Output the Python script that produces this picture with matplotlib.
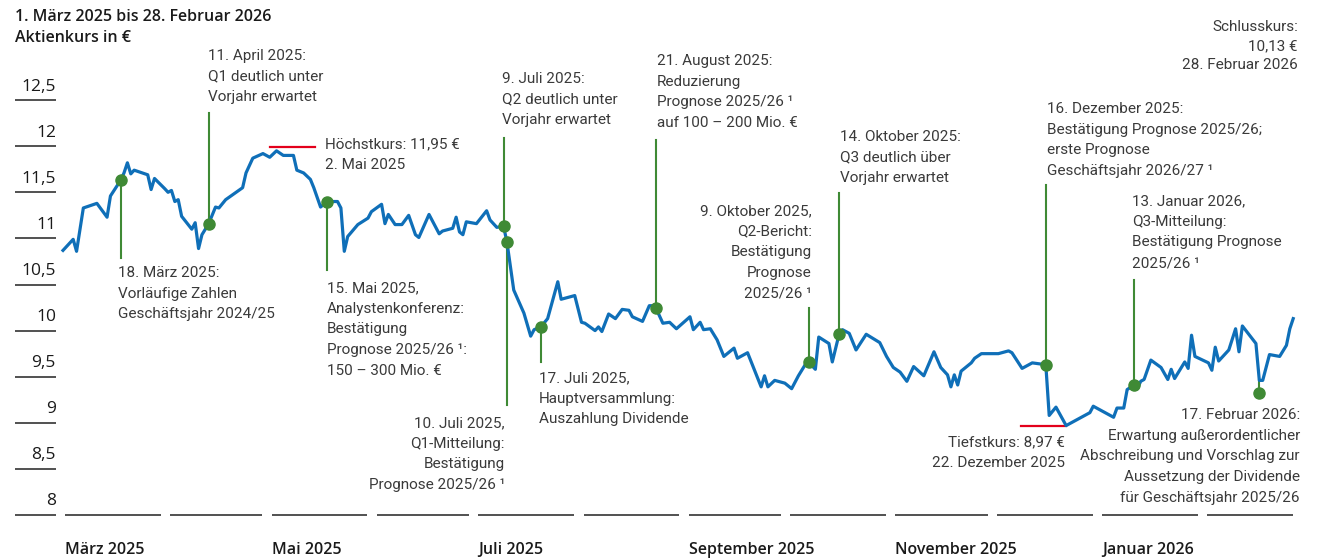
import numpy as np
import matplotlib
matplotlib.use("Agg")
import matplotlib.pyplot as plt
import matplotlib.transforms as mtransforms

START = np.datetime64("2025-03-01")

# Share price: day offset from 1 March 2025, close in EUR
days = [0, 3, 4, 6, 10, 13, 14, 17, 18, 19, 20, 21, 25, 26, 27, 30, 31, 32, 33,
        34, 35, 38, 39, 40, 41, 43, 45, 46, 48, 53, 54, 56, 59, 61, 63, 65, 68,
        69, 71, 73, 74, 76, 78, 81, 82, 83, 84, 87, 90, 91, 94, 95, 96, 98, 100,
        102, 104, 105, 108, 111, 112, 115, 116, 117, 118, 119, 122, 125, 126,
        128, 130, 131, 133, 136, 138, 139, 141, 143, 146, 147, 151, 153, 154,
        157, 158, 159, 161, 163, 165, 167, 168, 171, 173, 174, 175, 177, 179,
        181, 185, 186, 188, 189, 191, 193, 195, 198, 199, 202, 206, 207, 208,
        210, 213, 215, 217, 219, 220, 222, 223, 226, 227, 229, 230, 232, 234,
        237, 241, 243, 245, 247, 249, 251, 254, 257, 259, 261, 262, 263, 264,
        265, 268, 269, 271, 276, 279, 280, 283, 286, 290, 291, 293, 296, 303,
        304, 310, 311, 313, 314, 316, 317, 318, 319, 321, 324, 326, 327, 328,
        331, 332, 333, 334, 338, 339, 340, 341, 344, 346, 347, 348, 352, 353,
        354, 356, 359, 361, 362, 363]
price = [10.87, 10.99, 10.86, 11.33, 11.38, 11.23, 11.46, 11.63, 11.71, 11.82,
         11.70, 11.74, 11.69, 11.53, 11.65, 11.54, 11.50, 11.52, 11.40, 11.42,
         11.24, 11.10, 11.17, 10.89, 11.04, 11.16, 11.34, 11.33, 11.42, 11.55,
         11.71, 11.87, 11.92, 11.88, 11.95, 11.90, 11.90, 11.74, 11.71, 11.64,
         11.55, 11.34, 11.40, 11.40, 11.33, 10.86, 11.02, 11.15, 11.22, 11.29,
         11.37, 11.16, 11.26, 11.15, 11.15, 11.25, 11.04, 11.01, 11.26, 11.05,
         11.08, 11.11, 11.23, 11.07, 11.04, 11.18, 11.16, 11.30, 11.20, 11.12,
         11.13, 10.96, 10.44, 10.19, 9.94, 10.01, 10.04, 10.13, 10.53, 10.34,
         10.38, 10.09, 10.08, 10.00, 10.04, 9.99, 10.18, 10.13, 10.23, 10.22,
         10.15, 10.10, 10.27, 10.27, 10.24, 10.08, 10.09, 10.02, 10.15, 10.01,
         10.09, 10.01, 10.02, 9.90, 9.72, 9.81, 9.70, 9.76, 9.39, 9.51, 9.39,
         9.46, 9.43, 9.37, 9.51, 9.63, 9.66, 9.58, 9.93, 9.86, 9.66, 9.96, 10.01,
         9.97, 9.79, 9.96, 9.87, 9.72, 9.60, 9.55, 9.45, 9.61, 9.51, 9.77, 9.60,
         9.52, 9.39, 9.52, 9.41, 9.56, 9.65, 9.70, 9.75, 9.75, 9.78, 9.76, 9.59,
         9.65, 9.63, 9.08, 9.17, 8.97, 9.11, 9.18, 9.06, 9.16, 9.16, 9.36, 9.41,
         9.37, 9.45, 9.47, 9.68, 9.60, 9.47, 9.58, 9.48, 9.66, 9.59, 9.95, 9.72,
         9.65, 9.57, 9.82, 9.67, 9.79, 10.02, 9.77, 10.05, 9.86, 9.46, 9.46,
         9.74, 9.72, 9.84, 10.02, 10.13]

# Events marked with green dots
event_day = [17, 43, 78, 130, 131, 141, 175, 220, 229, 290, 316, 353]
event_price = [11.63, 11.16, 11.40, 11.13, 10.96, 10.04, 10.24, 9.66, 9.96,
               9.63, 9.41, 9.32]
event_text = [
    "18. März 2025:\nVorläufige Zahlen\nGeschäftsjahr 2024/25",
    "11. April 2025:\nQ1 deutlich unter\nVorjahr erwartet",
    "15. Mai 2025,\nAnalystenkonferenz:\nBestätigung\nPrognose 2025/26 ¹:\n150 – 300 Mio. €",
    "9. Juli 2025:\nQ2 deutlich unter\nVorjahr erwartet",
    "10. Juli 2025,\nQ1-Mitteilung:\nBestätigung\nPrognose 2025/26 ¹",
    "17. Juli 2025,\nHauptversammlung:\nAuszahlung Dividende",
    "21. August 2025:\nReduzierung\nPrognose 2025/26 ¹\nauf 100 – 200 Mio. €",
    "9. Oktober 2025,\nQ2-Bericht:\nBestätigung\nPrognose\n2025/26 ¹",
    "14. Oktober 2025:\nQ3 deutlich über\nVorjahr erwartet",
    "16. Dezember 2025:\nBestätigung Prognose 2025/26;\nerste Prognose\nGeschäftsjahr 2026/27 ¹",
    "13. Januar 2026,\nQ3-Mitteilung:\nBestätigung Prognose\n2025/26 ¹",
    "17. Februar 2026:\nErwartung außerordentlicher\nAbschreibung und Vorschlag zur\nAussetzung der Dividende\nfür Geschäftsjahr 2025/26",
]

high_price = 11.95
high_day = 63
low_price = 8.97
low_day = 296
close_price = 10.13

ytick_values = [8, 8.5, 9, 9.5, 10, 10.5, 11, 11.5, 12, 12.5]
ytick_labels = ["8", "8,5", "9", "9,5", "10", "10,5", "11", "11,5", "12", "12,5"]
months = ["2025-03", "2025-04", "2025-05", "2025-06", "2025-07", "2025-08",
          "2025-09", "2025-10", "2025-11", "2025-12", "2026-01", "2026-02",
          "2026-03"]
month_labels = ["März 2025", "", "Mai 2025", "", "Juli 2025", "",
                "September 2025", "", "November 2025", "", "Januar 2026", ""]

BLUE = "#0f6fb8"
GREEN = "#3f8a35"
RED = "#e3001b"
TEXT = "#3a3a3a"
W, H = 1321, 559

ann_font = ["Roboto", "DejaVu Sans"]
plt.rcParams["font.family"] = ["Open Sans", "DejaVu Sans"]

fig = plt.figure(figsize=(W / 100, H / 100), dpi=100)
ax = fig.add_axes([0, 0, 1, 1])
ax.set_axis_off()
# 1 day = 3.389 px, 1 EUR = 92.2 px
ax.set_xlim(-63 / 3.389, (W - 63) / 3.389)
ax.set_ylim(8 - (H - 515) / 92.2, 8 + 515 / 92.2)


def px(x, y):
    return x / W, 1 - y / H


# y axis: short rules with the value written above
blend = mtransforms.blended_transform_factory(fig.transFigure, ax.transData)
ax.hlines(ytick_values, 15 / W, 56 / W, transform=blend, color="#222222", lw=1.1)
for v, lab in zip(ytick_values, ytick_labels):
    ax.annotate(lab, (56 / W, v), xycoords=blend, xytext=(0, 4),
                textcoords="offset points", ha="right", va="bottom",
                fontsize=12.5, color="#1a1a1a")

# month rules along the bottom
month_start = [(np.datetime64(m + "-01") - START).astype(int) for m in months]
for i in range(12):
    ax.plot([month_start[i] + 0.6, month_start[i + 1] - 2.2], [8, 8],
            color="#222222", lw=1.1, solid_capstyle="butt")
    if month_labels[i]:
        ax.annotate(month_labels[i], (month_start[i] + 0.6, 8), xytext=(0, -25),
                    textcoords="offset points", ha="left", va="center",
                    fontsize=11.5, fontweight="semibold", color="#1a1a1a")

# event leader lines
stem_end = [10.79, 12.36, 10.66, 12.09, 9.19, 9.66, 12.07, 10.25, 11.49,
            11.58, 10.55, 9.46]
for d, p, e in zip(event_day, event_price, stem_end):
    ax.plot([d, d], [p, e], color=GREEN, lw=1.5, zorder=2)

ax.plot(days, price, color=BLUE, lw=2.3, solid_joinstyle="round", zorder=3)
ax.plot(event_day, event_price, "o", color=GREEN, ms=8, zorder=4)

# high / low markers
ax.plot([high_day - 2, high_day + 11.5], [high_price + 0.04] * 2, color=RED, lw=1.6)
ax.plot([low_day - 13.3, low_day], [low_price - 0.01] * 2, color=RED, lw=1.6)

# event labels: (x, y of first line centre, alignment) in picture pixels
label_pos = [(118, 272, "left"), (208, 55, "left"), (327, 287, "left"),
             (502, 78, "left"), (505, 422, "right"), (539, 377, "left"),
             (657, 60, "left"), (812, 210, "right"), (840, 136, "left"),
             (1047, 108, "left"), (1132, 200, "left"), (1300, 414, "right")]
LS = 1.61
FS = 11
for txt, (x, y, ha) in zip(event_text, label_pos):
    fig.text(*px(x, y - 6), txt, ha=ha, va="top", fontsize=FS,
             linespacing=LS, color=TEXT, family=ann_font)

fig.text(*px(325, 143 - 6),
         f"Höchstkurs: {high_price:.2f} €".replace(".", ",") + "\n2. Mai 2025",
         ha="left", va="top", fontsize=FS, linespacing=LS, color=TEXT, family=ann_font)
fig.text(*px(1065, 441 - 6),
         f"Tiefstkurs: {low_price:.2f} €".replace(".", ",") + "\n22. Dezember 2025",
         ha="right", va="top", fontsize=FS, linespacing=LS, color=TEXT, family=ann_font)
fig.text(*px(1298, 27 - 7),
         "Schlusskurs:\n" + f"{close_price:.2f} €".replace(".", ",") + "\n28. Februar 2026",
         ha="right", va="top", fontsize=FS, linespacing=1.45, color=TEXT, family=ann_font)

fig.text(*px(15, 17), "1. März 2025 bis 28. Februar 2026", ha="left", va="center",
         fontsize=11.5, fontweight="semibold", color="#1a1a1a")
fig.text(*px(15, 38), "Aktienkurs in €", ha="left", va="center",
         fontsize=11.5, fontweight="semibold", color="#1a1a1a")

fig.savefig("out.png", dpi=100)
